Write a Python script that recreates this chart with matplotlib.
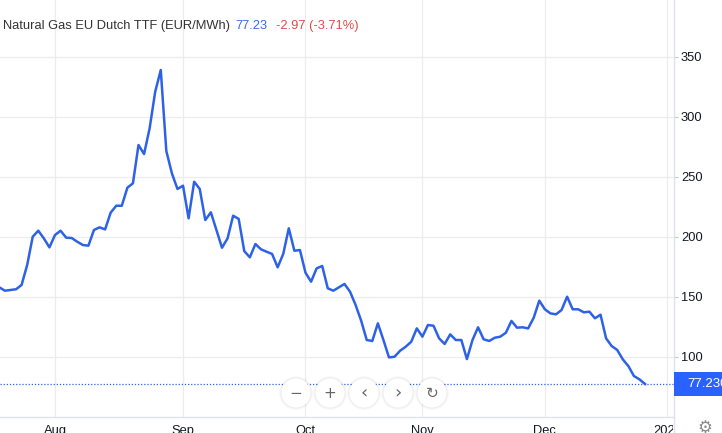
"""Natural Gas EU Dutch TTF daily close, Jul-Dec 2022 - widget style chart."""
import matplotlib.pyplot as plt
import matplotlib.patches as mpatches
from matplotlib.lines import Line2D
from matplotlib.transforms import Bbox
import numpy as np
import pandas as pd

plt.rcParams['font.family'] = ['Liberation Sans', 'DejaVu Sans']

# ── data (business days from 18 Jul 2022) ──
START = '2022-07-18'
ttf_close = [
    157.8, 155.0, 155.6, 156.2, 159.8, 176.4, 200.0, 205.0, 198.6, 191.1,
    201.4, 205.0, 199.2, 198.9, 195.8, 193.1, 192.5, 205.6, 207.8, 206.1,
    220.0, 225.8, 225.8, 240.8, 244.5, 276.4, 268.9, 290.3, 320.8, 338.9,
    271.4, 252.8, 239.8, 242.5, 215.3, 245.8, 239.8, 213.9, 220.3, 205.6,
    190.8, 198.6, 217.5, 214.8, 188.0, 182.8, 193.9, 189.5, 187.5, 185.6,
    174.5, 185.6, 207.0, 188.3, 188.9, 170.0, 162.5, 173.6, 175.6, 157.0,
    155.0, 157.8, 160.6, 154.2, 143.1, 130.0, 113.9, 113.1, 127.8, 113.9,
    99.4, 100.0, 105.0, 108.3, 112.5, 123.6, 116.7, 126.4, 125.8, 115.3,
    110.6, 118.6, 113.9, 113.9, 98.0, 113.9, 124.5, 114.5, 113.1, 115.8,
    116.7, 120.0, 129.8, 124.2, 124.5, 123.6, 132.5, 146.7, 139.5, 136.1,
    135.3, 138.9, 150.0, 139.5, 139.5, 137.0, 137.5, 132.0, 135.0, 115.3,
    108.9, 105.6, 97.8, 92.2, 83.9, 81.1, 77.23,
]
last_change = -2.97
last_change_pct = -3.71
y_ticks = [100, 150, 200, 250, 300, 350]
month_starts = ['2022-08-01', '2022-09-01', '2022-10-01',
                '2022-11-01', '2022-12-01', '2023-01-01']
month_labels = ['Aug', 'Sep', 'Oct', 'Nov', 'Dec', '2023']

dates = pd.bdate_range(START, periods=len(ttf_close))
idx = np.arange(len(dates))
tick_pos = [np.busday_count(START, d) for d in month_starts]
last = ttf_close[-1]

LINE = '#2e62e6'
BLUE = '#2962ff'
GRID = '#ececec'
AXIS = '#e0e3eb'
TXT = '#131722'

W, H = 722, 433
AX_R, AX_B = 674, 16
fig = plt.figure(figsize=(W / 100, H / 100), dpi=100, facecolor='white')
ax = fig.add_axes([0, AX_B / H, AX_R / W, 1 - AX_B / H])

ax.plot(idx, ttf_close, color=LINE, lw=1.8, solid_joinstyle='round', zorder=3)
ax.axhline(last, color=BLUE, lw=0.9, ls=(0, (1, 1.5)), zorder=2)

ax.set_xlim(0.12, 121.2)
ax.set_ylim(49.75, 397.25)

ax.grid(True, color=GRID, lw=0.9)
ax.set_axisbelow(True)
for s in ('top', 'left'):
    ax.spines[s].set_visible(False)
for s in ('right', 'bottom'):
    ax.spines[s].set_color(AXIS)
    ax.spines[s].set_linewidth(1.0)

ax.yaxis.tick_right()
ax.set_yticks(y_ticks)
ax.tick_params(axis='y', length=3, width=0.8, color='#c8c8c8', pad=2,
               labelsize=9.3, labelcolor=TXT)
ax.set_xticks(tick_pos)
ax.set_xticklabels(month_labels)
ax.tick_params(axis='x', length=0, pad=6, labelsize=9.3, labelcolor=TXT)
# "2023" gets cut by the price scale
for lbl in ax.get_xticklabels():
    lbl.set_clip_box(Bbox([[0, 0], [AX_R - 1, H]]))
    lbl.set_clip_on(True)

# right axis line continues to bottom edge
fig.add_artist(Line2D([AX_R / W] * 2, [0, AX_B / H], color=AXIS, lw=1.0))

# ── last price tag ──
px = fig.dpi_scale_trans
y_last = ax.transData.transform((0, last))[1] / 100
fig.add_artist(mpatches.Rectangle((AX_R / 100, y_last - 0.12), 0.6, 0.24,
                                  transform=px, color=BLUE, lw=0))
fig.text(687 / W, y_last / (H / 100), f'{last:.3f}', color='white',
         fontsize=9.5, va='center', ha='left')

# ── header ──
r = fig.canvas.get_renderer()
t1 = fig.text(3 / W, (H - 29) / H, 'Natural Gas EU Dutch TTF (EUR/MWh)',
              fontsize=9.3, color='#333333', va='baseline')
x1 = t1.get_window_extent(r).x1
t2 = fig.text((x1 + 5) / W, (H - 29) / H, f'{last:.2f}', fontsize=9.3,
              color='#3a6be0', va='baseline')
x2 = t2.get_window_extent(r).x1
fig.text((x2 + 9) / W, (H - 29) / H,
         f'{last_change:.2f} ({last_change_pct:.2f}%)', fontsize=9.3,
         color='#e04a4a', va='baseline')

# ── zoom / scroll buttons ──
buttons = ['\u2212', '+', '\u2039', '\u203a', '\u21bb']
for k, g in enumerate(buttons):
    cx, cy = (296 + 34 * k) / 100, (H - 393) / 100
    for rad, a in ((0.17, 0.025), (0.158, 0.04)):
        fig.add_artist(mpatches.Circle((cx, cy), rad, transform=px,
                                       color='black', alpha=a, lw=0))
    fig.add_artist(mpatches.Circle((cx, cy), 0.145, transform=px,
                                   color='white', lw=0))
    fig.text(cx / (W / 100), cy / (H / 100), g, ha='center', va='center',
             fontsize=13 if k in (2, 3) else 11, color='#666666',
             family=['DejaVu Sans'])

# settings gear, cut by bottom edge
fig.text(705 / W, (H - 428) / H, '\u2699', ha='center', va='center',
         fontsize=12, color='#8a8a8a', family=['DejaVu Sans'])

fig.savefig('out.png', dpi=100, facecolor='white')
